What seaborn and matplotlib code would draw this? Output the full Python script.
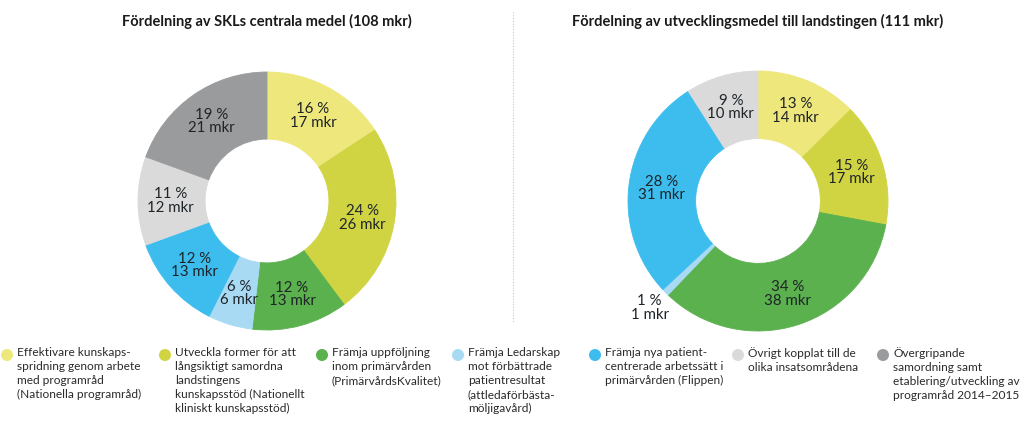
import numpy as np
import matplotlib.pyplot as plt
import seaborn as sns

# Data
categories = [
    "Effektivare kunskaps-\nspridning genom arbete\nmed programråd\n(Nationella programråd)",
    "Utveckla former för att\nlångsiktigt samordna\nlandstingens\nkunskapsstöd (Nationellt\nkliniskt kunskapsstöd)",
    "Främja uppföljning\ninom primärvården\n(PrimärvårdsKvalitet)",
    "Främja Ledarskap\nmot förbättrade\npatientresultat\n(attledaförbästa-\nmöljigavård)",
    "Främja nya patient-\ncentrerade arbetssätt i\nprimärvården (Flippen)",
    "Övrigt kopplat till de\nolika insatsområdena",
    "Övergripande\nsamordning samt\netablering/utveckling av\nprogramråd 2014–2015",
]
colors = ["#EEE77C", "#D0D443", "#5BB14E", "#A9DAF4", "#3DBDEE", "#DADADA", "#9A9B9C"]

left_title = "Fördelning av SKLs centrala medel (108 mkr)"
left_mkr = [17, 26, 13, 6, 13, 12, 21]
left_pct = [16, 24, 12, 6, 12, 11, 19]

right_title = "Fördelning av utvecklingsmedel till landstingen (111 mkr)"
right_mkr = [14, 17, 38, 1, 31, 10]
right_pct = [13, 15, 34, 1, 28, 9]

sns.set_theme(style="white")
plt.rcParams['font.family'] = ['Lato', 'DejaVu Sans']

W, H = 1024, 426
fig = plt.figure(figsize=(W / 100, H / 100), dpi=100)

def px_axes(cx, cy, r):
    return fig.add_axes([(cx - r) / W, (H - cy - r) / H, 2 * r / W, 2 * r / H])

def donut(ax, mkr, pct, outside=()):
    wedges, _ = ax.pie(mkr, colors=colors[:len(mkr)], startangle=90, counterclock=False,
                       radius=1.0, wedgeprops=dict(width=0.52, linewidth=0.6))
    for w in wedges:
        w.set_edgecolor(w.get_facecolor())
    for i, w in enumerate(wedges):
        mid = np.deg2rad((w.theta1 + w.theta2) / 2)
        rr = 1.17 if i in outside else 0.75
        ax.text(rr * np.cos(mid), rr * np.sin(mid), f"{pct[i]} %\n{mkr[i]} mkr",
                ha='center', va='center', fontsize=10.8, linespacing=0.95, color='#1e2428')
    ax.set_xlim(-1, 1)
    ax.set_ylim(-1, 1)
    ax.set_aspect('equal')
    ax.axis('off')

ax1 = px_axes(267, 201, 129)
donut(ax1, left_mkr, left_pct)
ax2 = px_axes(758, 201, 130)
donut(ax2, right_mkr, right_pct, outside=(3,))

# overlay in pixel coordinates for titles, separator and legend
ov = fig.add_axes([0, 0, 1, 1], zorder=-1)
ov.set_xlim(0, W)
ov.set_ylim(H, 0)
ov.axis('off')
ov.text(267, 21, left_title, ha='center', va='center', fontsize=10.5, fontweight='bold', color='#1a1a1a')
ov.text(758, 21, right_title, ha='center', va='center', fontsize=10.5, fontweight='bold', color='#1a1a1a')
ov.plot([513, 513], [12, 322], color='#c8c8c8', linestyle=(0, (1, 1.5)), linewidth=0.8)

leg_x = [7, 165, 322, 458, 595, 738, 883]
for x, c, lab in zip(leg_x, colors, categories):
    ov.scatter([x], [355], s=75, color=c, edgecolors='none')
    ov.text(x + 10, 347, lab, ha='left', va='top', fontsize=8.6, linespacing=1.33, color='#2a2a2a')

fig.savefig("out.png", dpi=100)
